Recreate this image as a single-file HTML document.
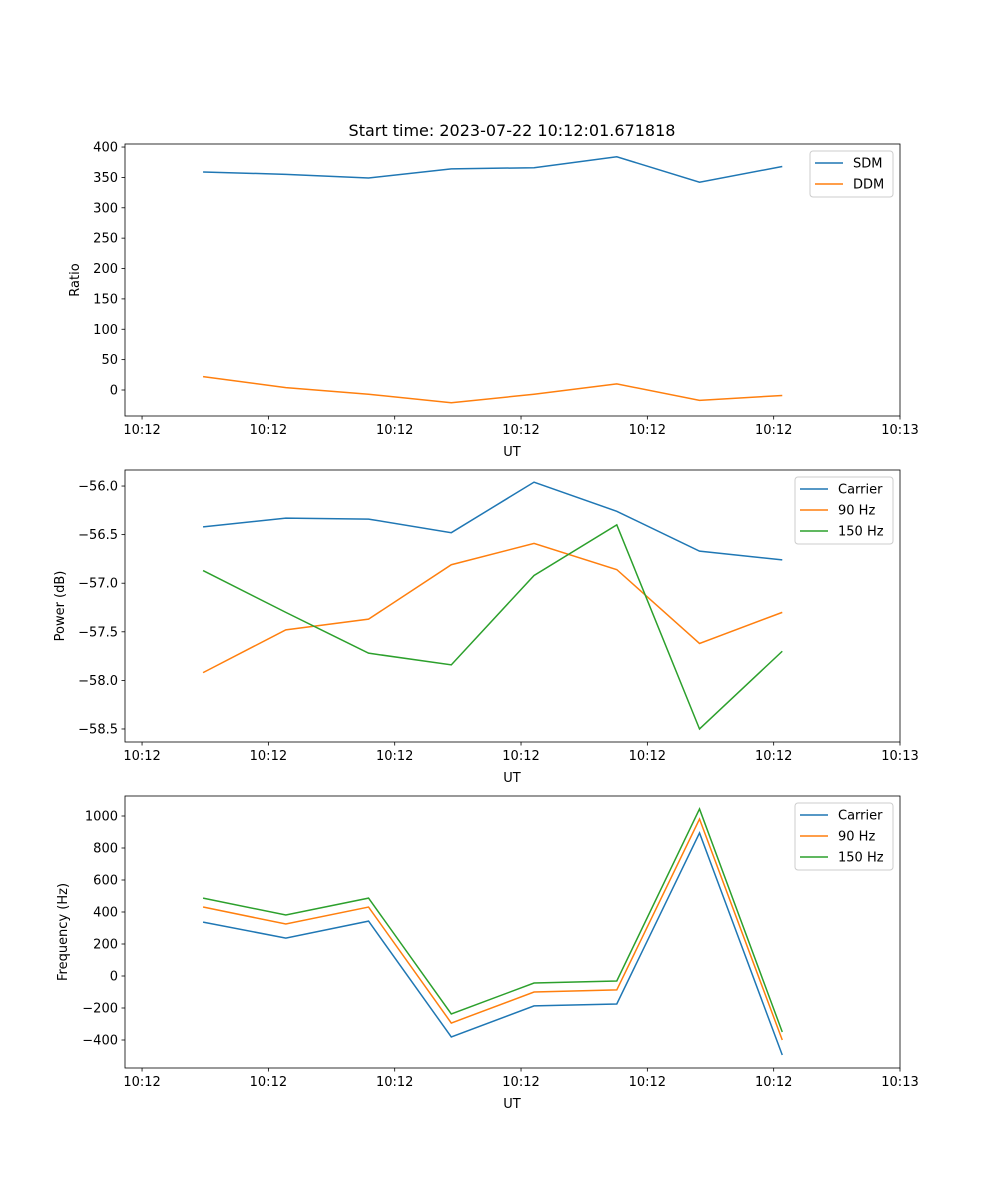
<!DOCTYPE html>
<html><head><meta charset="utf-8"><style>
body{margin:0;background:#fff}
svg{display:block;font-family:"DejaVu Sans","Liberation Sans",sans-serif}
</style></head><body>
<svg id="fig" width="1000" height="1200" xmlns="http://www.w3.org/2000/svg">
<rect width="1000" height="1200" fill="#fff"/>
<text x="512" y="136" font-size="16" text-anchor="middle">Start time: 2023-07-22 10:12:01.671818</text>
</svg>
<script>
const times = [4.83, 11.38, 17.93, 24.48, 31.03, 37.58, 44.13, 50.68];
const xTickVals = [0, 10, 20, 30, 40, 50, 60];
const xTickLabels = ["10:12","10:12","10:12","10:12","10:12","10:12","10:13"];
const sdm = [359, 355, 349, 364, 366, 384, 342, 368];
const ddm = [22, 4, -7, -21, -7, 10, -17, -9];
const pwrCarrier = [-56.42, -56.33, -56.34, -56.48, -55.96, -56.26, -56.67, -56.76];
const pwr90 = [-57.92, -57.48, -57.37, -56.81, -56.59, -56.86, -57.62, -57.30];
const pwr150 = [-56.87, -57.30, -57.72, -57.84, -56.92, -56.40, -58.50, -57.70];
const frqCarrier = [337, 237, 343, -381, -187, -175, 894, -494];
const frq90 = [431, 325, 431, -294, -100, -87, 981, -400];
const frq150 = [487, 381, 487, -237, -44, -31, 1044, -350];
const ticks1 = [0, 50, 100, 150, 200, 250, 300, 350, 400];
const ticks2 = [-58.5, -58.0, -57.5, -57.0, -56.5, -56.0];
const ticks3 = [-400, -200, 0, 200, 400, 600, 800, 1000];

const NS = "http://www.w3.org/2000/svg";
const svg = document.getElementById("fig");
function mk(tag, attrs, parent) {
  const e = document.createElementNS(NS, tag);
  for (const k in attrs) e.setAttribute(k, attrs[k]);
  (parent || svg).appendChild(e);
  return e;
}
const L = 125, R = 900;
const xmin = -1.35, xmax = 60;
const xs = t => L + (t - xmin) / (xmax - xmin) * (R - L);

function panel(top, ymin, ymax, yticks, fmt, ylabel, series, legend, name) {
  const bot = top + 272;
  const ys = v => bot - (v - ymin) / (ymax - ymin) * (bot - top);
  const g = mk("g", {});
  
  
  xTickVals.forEach((t, i) => {
    const x = xs(t);
    mk("line", {x1: x, x2: x, y1: bot, y2: bot + 3.5, stroke: "#000", "stroke-width": 0.8}, g);
    const tx = mk("text", {x: x, y: bot + 18, "font-size": 13, "text-anchor": "middle"}, g);
    tx.textContent = xTickLabels[i];
    
    
  });
  yticks.forEach(v => {
    const y = ys(v);
    mk("line", {x1: L - 3.5, x2: L, y1: y, y2: y, stroke: "#000", "stroke-width": 0.8}, g);
    const tx = mk("text", {x: L - 7, y: y + 4.5, "font-size": 13, "text-anchor": "end"}, g);
    tx.textContent = fmt(v);
    
    
  });
  const xl = mk("text", {x: 512, y: bot + 40, "font-size": 13, "text-anchor": "middle"}, g);
  xl.textContent = "UT";
  
  
  const cy = (top + bot) / 2;
  const yl = mk("text", {x: 0, y: 0, "font-size": 13, "text-anchor": "middle", transform: `translate(${ylabel[1]},${cy}) rotate(-90)`}, g);
  yl.textContent = ylabel[0];
  
  
  series.forEach(s => {
    const pts = s.vals.map((v, i) => xs(times[i]) + "," + ys(v)).join(" ");
    const p = mk("polyline", {points: pts, fill: "none", stroke: s.color, "stroke-width": 1.5}, g);
    
    
  });
  mk("rect", {x: L, y: top, width: R - L, height: bot - top, fill: "none", stroke: "#000", "stroke-width": 0.8}, g);
  const lg = mk("g", {}, g);
  
  
  const lx = legend.x, h = 4 + series.length * 21;
  mk("rect", {x: lx, y: top + 7, width: 893 - lx, height: h, rx: 3, fill: "#fff", "fill-opacity": 0.8, stroke: "#ccc", "stroke-width": 1}, lg);
  series.forEach((s, i) => {
    const y = top + 19 + i * 21;
    mk("line", {x1: lx + 5, x2: lx + 33, y1: y, y2: y, stroke: s.color, "stroke-width": 1.5}, lg);
    const t = mk("text", {x: lx + 43, y: y + 4.5, "font-size": 13}, lg);
    t.textContent = s.label;
    
    
  });
}
const B = "#1f77b4", O = "#ff7f0e", G = "#2ca02c";
panel(144, -42.8, 405, ticks1, v => v.toString(), ["Ratio", 79],
  [{vals: sdm, color: B, label: "SDM", name: "sdm-line"}, {vals: ddm, color: O, label: "DDM", name: "ddm-line"}],
  {x: 810}, "ratio-panel");
panel(470, -58.634, -55.835, ticks2, v => "\u2212" + Math.abs(v).toFixed(1), ["Power (dB)", 64],
  [{vals: pwrCarrier, color: B, label: "Carrier", name: "power-carrier-line"}, {vals: pwr90, color: O, label: "90 Hz", name: "power-90hz-line"}, {vals: pwr150, color: G, label: "150 Hz", name: "power-150hz-line"}],
  {x: 795}, "power-panel");
panel(796, -575, 1125, ticks3, v => v < 0 ? "\u2212" + Math.abs(v) : v.toString(), ["Frequency (Hz)", 67],
  [{vals: frqCarrier, color: B, label: "Carrier", name: "freq-carrier-line"}, {vals: frq90, color: O, label: "90 Hz", name: "freq-90hz-line"}, {vals: frq150, color: G, label: "150 Hz", name: "freq-150hz-line"}],
  {x: 795}, "frequency-panel");
</script>
</body></html>
